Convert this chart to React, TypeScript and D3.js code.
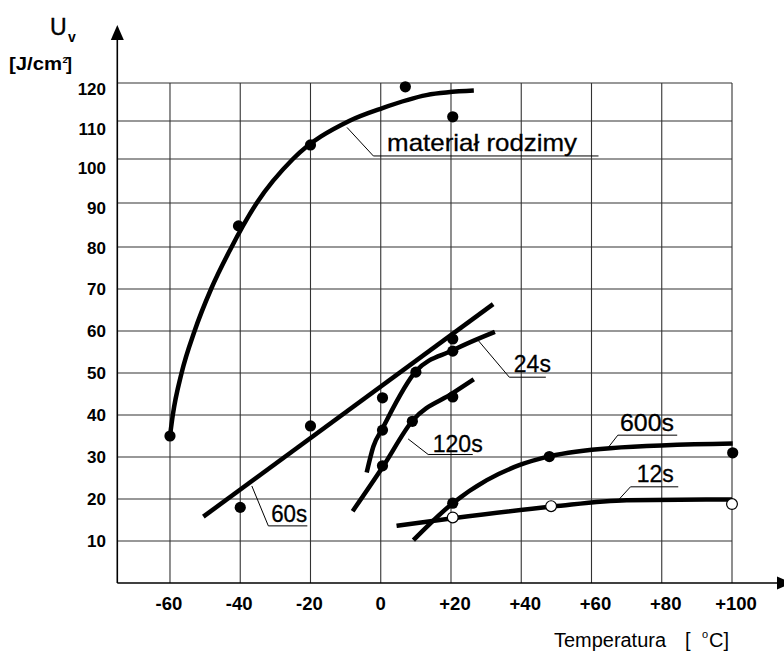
import React from 'react';
import * as d3 from 'd3';

// ---- data ----
const xTicks = [-60, -40, -20, 0, 20, 40, 60, 80, 100];
const xTickLabels = ['-60', '-40', '-20', '0', '+20', '+40', '+60', '+80', '+100'];
const yTicks = [10, 20, 30, 40, 50, 60, 70, 80, 90, 100, 110, 120];
const yTickLabels = ['10', '20', '30', '40', '50', '60', '70', '80', '90', '100', '110', '120'];

// fitted curves (temperature, Uv)
const curveMaterial: [number, number][] = [[-60, 35], [-59.2, 40], [-56.7, 50], [-53, 60], [-48.3, 70], [-42.9, 79.3], [-35.3, 90], [-25, 100], [-9, 110], [0.5, 113.4], [13, 116.8], [26.5, 118]];
const curve60s: [number, number][] = [[-50.5, 15.8], [32, 66.4]];
const curve24s: [number, number][] = [[-4, 26.3], [-2.1, 32.5], [0.5, 36.8], [10, 50.4], [20.5, 55.4], [32.5, 59.8]];
const curve120s: [number, number][] = [[-8, 17.1], [0.7, 27.8], [9, 38.6], [20.5, 45.2], [26.5, 48.5]];
const curve600s: [number, number][] = [[9.3, 10.2], [20.5, 19], [30.2, 24.5], [39.6, 28.1], [48.2, 30.2], [65.3, 32.1], [100.2, 33.2]];
const curve12s: [number, number][] = [[4.5, 13.6], [20.5, 15.4], [49, 18.2], [70, 19.7], [100, 19.9]];

// measured points
const ptsMaterial: [number, number][] = [[-60, 35], [-40.5, 84.8], [-20, 103.7], [7, 119], [20.5, 111.1]];
const pts60s: [number, number][] = [[-40, 18], [-20, 37.4], [0.5, 44.1], [20.5, 58.1]];
const pts24s: [number, number][] = [[0.5, 36.4], [10, 50.2], [20.5, 55.2]];
const pts120s: [number, number][] = [[0.5, 27.9], [9, 38.5], [20.5, 44.3]];
const pts600s: [number, number][] = [[20.5, 19], [48, 30.1], [100.2, 31]];
const pts12s: [number, number][] = [[20.5, 15.6], [48.5, 18.3], [100, 18.8]];

const seriesLabels = ['materiał rodzimy', '60s', '24s', '120s', '600s', '12s'];

export default function App() {
  const x = d3.scaleLinear().domain([-75, 100]).range([117.3, 732]);
  const y = d3.scaleLinear().domain([0, 80, 100, 120]).range([583, 247, 159, 83]);
  const yLab = d3.scaleLinear().domain([0, 80, 120]).range([583, 247.5, 89]);

  const line = d3.line<[number, number]>().x(d => x(d[0])).y(d => y(d[1])).curve(d3.curveMonotoneX);
  const straight = d3.line<[number, number]>().x(d => x(d[0])).y(d => y(d[1]));

  const curves = [curveMaterial, curve60s, curve24s, curve120s, curve600s, curve12s];
  const filled = [ptsMaterial, pts60s, pts24s, pts120s, pts600s];

  // annotations in data coordinates: leader polyline + text anchor
  const annots: { pts: [number, number][]; at: [number, number] }[] = [
    { pts: [[-9.6, 108.3], [-2.1, 100.8], [62, 100.8]], at: [1.8, 102.1] },
    { pts: [[-36.7, 23.1], [-32, 13.6], [-20.9, 13.6]], at: [-31.2, 14.6] },
    { pts: [[27.8, 57.7], [36.6, 49.0], [47.0, 49.0]], at: [37.9, 50.3] },
    { pts: [[7.8, 34.3], [13.5, 30.6], [26.2, 30.6]], at: [14.8, 31.3] },
    { pts: [[64.8, 32.3], [67.5, 35.2], [84.4, 35.2]], at: [68.1, 36.3] },
    { pts: [[67.6, 19.7], [71.1, 22.9], [84.7, 22.9]], at: [72.9, 24.1] },
  ];
  const labelWidths = [190, 36, 37, 50, 54, 37];

  const font = '"Liberation Sans", Arial, Helvetica, sans-serif';
  const x0 = x(-75);
  const yTop = y(120);
  const xRight = x(100);

  return (
    <svg width={784} height={651} style={{ position: 'absolute', left: 0, top: 0, background: '#fff' }} fontFamily={font}>
      <rect x={0} y={0} width={784} height={651} fill="#fff" />
      {/* grid */}
      <g stroke="#333" strokeWidth={1.1}>
        {yTicks.map(t => (
          <line key={'h' + t} x1={x0} x2={xRight} y1={y(t)} y2={y(t)} />
        ))}
        {xTicks.map(t => (
          <line key={'v' + t} x1={x(t)} x2={x(t)} y1={y(0)} y2={yTop} />
        ))}
      </g>
      {/* axes */}
      <line x1={x0} x2={x0} y1={y(0)} y2={36} stroke="#000" strokeWidth={1.6} />
      <polygon points={`${x0 - 6.5},40 ${x0},25 ${x0 + 6.5},40`} fill="#000" />
      <line x1={x0} x2={780} y1={y(0)} y2={y(0)} stroke="#000" strokeWidth={1.6} />
      <polygon points={`777,${y(0) - 6.5} 792,${y(0)} 777,${y(0) + 6.5}`} fill="#000" />

      {/* tick labels */}
      <g fontWeight="bold" fontSize={17} textAnchor="end" fill="#000">
        {yTicks.map((t, i) => (
          <text key={'yl' + t} x={106} y={yLab(t) + 6}>{yTickLabels[i]}</text>
        ))}
      </g>
      <g fontWeight="bold" fontSize={18.5} textAnchor="middle" fill="#000">
        {xTicks.map((t, i) => (
          <text key={'xl' + t} x={x(t) + (t > 0 ? 4 : t < 0 ? -1 : 0)} y={610}>{xTickLabels[i]}</text>
        ))}
      </g>

      {/* axis titles */}
      <text x={50} y={35} fontSize={23} fill="#000" stroke="#000" strokeWidth={0.4}>U</text>
      <text x={68} y={41.5} fontSize={14} fontWeight="bold" fill="#000">v</text>
      <text x={9} y={70} fontSize={18} fontWeight="bold" fill="#000">
        <tspan textLength={53} lengthAdjust="spacingAndGlyphs">[J/cm</tspan>
        <tspan x={62.5} dy={-7} fontSize={9}>2</tspan>
        <tspan x={66} dy={7}>]</tspan>
      </text>

      <text x={554} y={647} fontSize={20} fill="#000">
        <tspan textLength={112} lengthAdjust="spacingAndGlyphs">Temperatura</tspan>
        <tspan x={685}>[</tspan>
        <tspan x={702} dy={-9} fontSize={11}>o</tspan>
        <tspan x={709} dy={9}>C]</tspan>
      </text>

      {/* annotation leaders */}
      <g fill="none" stroke="#000" strokeWidth={1}>
        {annots.map((a, i) => (
          <path key={'al' + i} d={straight(a.pts) || ''} />
        ))}
      </g>
      <g fontSize={24} fill="#000" stroke="#000" strokeWidth={0.3}>
        {annots.map((a, i) => (
          <text key={'at' + i} x={x(a.at[0])} y={y(a.at[1])} textLength={labelWidths[i]} lengthAdjust="spacingAndGlyphs">{seriesLabels[i]}</text>
        ))}
      </g>

      {/* curves */}
      <g fill="none" stroke="#000" strokeWidth={4.5} strokeLinecap="butt">
        {curves.map((c, i) => (
          <path key={'c' + i} d={(c.length === 2 ? straight(c) : line(c)) || ''} />
        ))}
      </g>

      {/* points */}
      <g fill="#000">
        {filled.map((s, i) =>
          s.map((p, j) => <circle key={'p' + i + '-' + j} cx={x(p[0])} cy={y(p[1])} r={5.6} />)
        )}
      </g>
      <g fill="#fff" stroke="#000" strokeWidth={1.2}>
        {pts12s.map((p, j) => (
          <circle key={'o' + j} cx={x(p[0])} cy={y(p[1])} r={5.4} />
        ))}
      </g>
    </svg>
  );
}
